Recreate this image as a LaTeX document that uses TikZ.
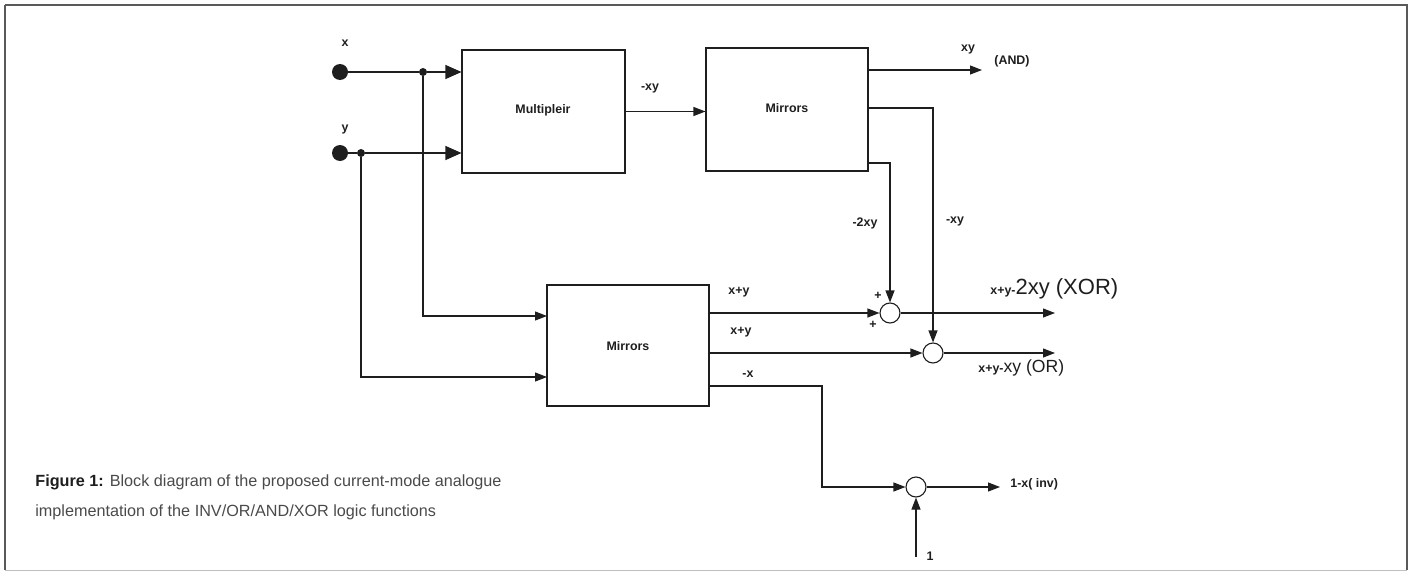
\documentclass[tikz,border=0pt]{standalone}
\usepackage{fontspec}
\setmainfont{Liberation Sans}
\usetikzlibrary{arrows.meta}
\definecolor{ink}{HTML}{1E1E1E}
\definecolor{capgray}{HTML}{4A4A4A}
\tikzset{
  box/.style={draw=ink, line width=0.55pt, rectangle, inner sep=0pt},
  wire/.style={draw=ink, line width=0.55pt},
  arr/.style={wire, -{Triangle[length=6pt, width=4.5pt]}},
  bigarr/.style={wire, -{Triangle[length=8pt, width=7pt]}},
  indot/.style={circle, fill=ink, minimum size=8pt, inner sep=0pt},
  jdot/.style={circle, fill=ink, minimum size=4pt, inner sep=0pt},
  sum/.style={circle, draw=ink, line width=0.55pt, minimum size=10pt, inner sep=0pt},
  lbl/.style={font=\fontsize{6.2}{7}\selectfont\bfseries, text=ink, inner sep=0pt},
  captext/.style={anchor=base west, inner sep=0pt, text=capgray, font=\fontsize{8.1}{15}\selectfont},
}
\begin{document}
\begin{tikzpicture}[x=0.5pt,y=-0.5pt]
\useasboundingbox (0,0) rectangle (1414,573);
\draw[gray!70!black, line width=0.6pt] (5,5) -- (1407,5) -- (1407,570);
\draw[gray!70!black, line width=0.6pt] (5,5) -- (5,570);
\draw[gray!50, line width=0.4pt] (5,570) -- (1407,570);

% blocks
\node[box, minimum width=81.5pt, minimum height=61.5pt] (mult) at (543.5,111.5) {};
\node[lbl] at (543,110) {Multipleir};
\node[box, minimum width=81pt, minimum height=61.5pt] (mir1) at (787,109.5) {};
\node[lbl] at (787,108) {Mirrors};
\node[box, minimum width=81pt, minimum height=60.5pt] (mir2) at (628,345.5) {};
\node[lbl] at (628,346) {Mirrors};

% inputs
\node[indot] (x) at (340,72) {};
\node[indot] (y) at (340,153) {};
\node[lbl] at (345,43) {x};
\node[lbl] at (345,130) {y};
\node[jdot] (jx) at (423,72) {};
\node[jdot] (jy) at (361,153) {};

\draw[wire] (x) -- (jx);
\draw[bigarr] (jx) -- (jx -| mult.west);
\draw[wire] (y) -- (jy);
\draw[bigarr] (jy) -- (jy -| mult.west);

\coordinate (m2a) at (547,316);
\coordinate (m2b) at (547,377);
\draw[arr] (jx) |- (m2a);
\draw[arr] (jy) |- (m2b);

% multiplier -> mirrors
\draw[arr] (mult.east) -- (mult.east -| mir1.west);
\node[lbl] at (650,89) {-xy};

% sum nodes
\node[sum] (xor) at (890,313) {};
\node[sum] (or) at (933,353) {};
\node[sum] (inv) at (916,487) {};

% mirrors1 outputs
\coordinate (andout) at (982,70);
\draw[arr] (mir1.east |- andout) -- (andout);
\node[lbl] at (968,50) {xy};
\node[lbl] at (1012,61) {(AND)};

\coordinate (m1b) at (868,108);
\coordinate (m1c) at (868,163);
\draw[arr] (m1b) -| (or);
\draw[arr] (m1c) -| (xor);
\node[lbl] at (865,223) {-2xy};
\node[lbl] at (955,222) {-xy};

% mirrors2 outputs
\draw[arr] (mir2.east |- xor) -- (xor);
\draw[arr] (mir2.east |- or) -- (or);
\coordinate (bend) at (822,386);
\draw[arr] (mir2.east |- bend) -- (bend) |- (inv);
\node[lbl] at (739,292) {x+y};
\node[lbl] at (741,332) {x+y};
\node[lbl] at (748,374) {-x};
\node[lbl] at (878,296) {+};
\node[lbl] at (873,325) {+};

% outputs
\coordinate (xorout) at (1055,313);
\coordinate (orout) at (1055,353);
\coordinate (invout) at (1000,487);
\coordinate (one) at (916,557);
\draw[arr] (xor) -- (xorout);
\draw[arr] (or) -- (orout);
\draw[arr] (inv) -- (invout);
\draw[arr] (one) -- (inv);
\node[lbl, anchor=west] at (990,289) {x+y-\textnormal{\fontsize{11}{12}\selectfont 2xy (XOR)}};
\node[lbl, anchor=west] at (978,368) {x+y-\textnormal{\fontsize{8.8}{10}\selectfont xy (OR)}};
\node[lbl, anchor=west] at (1010,484) {1-x( inv)};
\node[lbl] at (930,556) {1};

% caption
\node[captext] (cap1) at (35,486)
  {\textbf{\textcolor{ink}{Figure 1:}} Block diagram of the proposed current-mode analogue};
\node[captext] (cap2) at (35,516)
  {implementation of the INV/OR/AND/XOR logic functions};
\end{tikzpicture}
\end{document}
